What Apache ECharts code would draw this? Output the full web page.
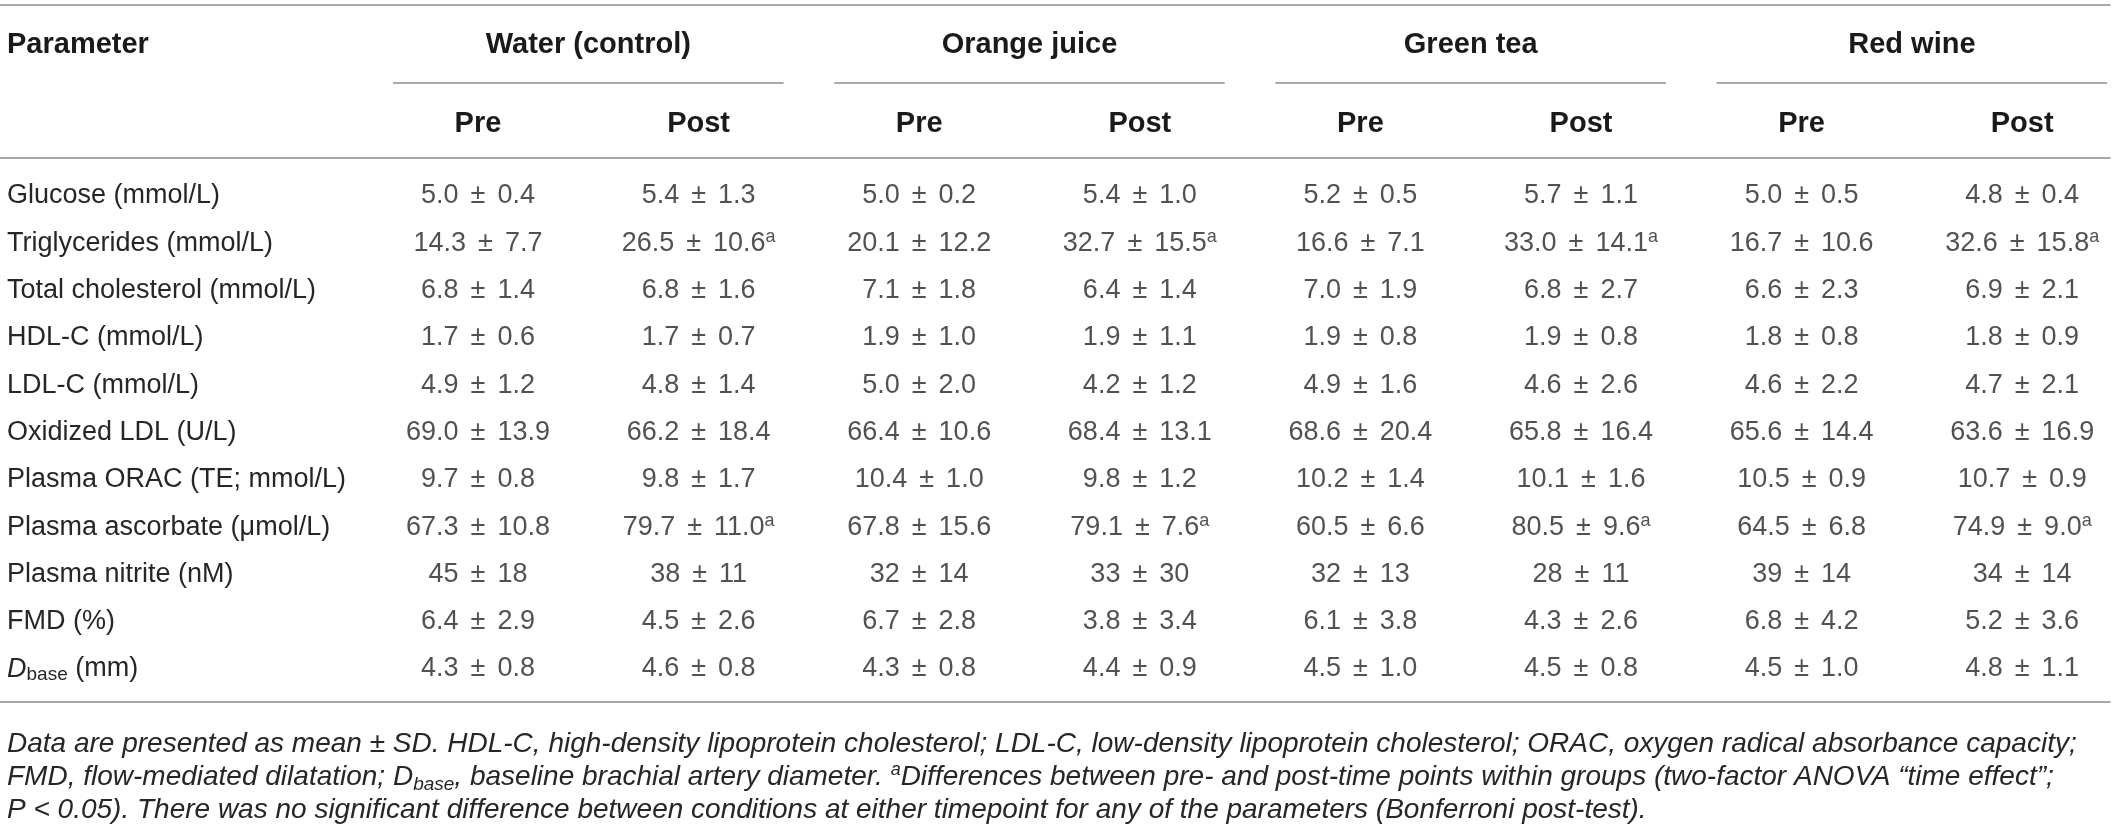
<!DOCTYPE html>
<html>
<head>
<meta charset="utf-8">
<script src="https://cdn.jsdelivr.net/npm/echarts@6/dist/echarts.min.js"></script>
<style>
html,body{margin:0;padding:0;background:#ffffff;}
#chart{width:2118px;height:826px;}
</style>
</head>
<body>
<div id="chart"></div>
<script>
// ---------- DATA ----------
const parameters = [
  "Glucose (mmol/L)",
  "Triglycerides (mmol/L)",
  "Total cholesterol (mmol/L)",
  "HDL-C (mmol/L)",
  "LDL-C (mmol/L)",
  "Oxidized LDL (U/L)",
  "Plasma ORAC (TE; mmol/L)",
  "Plasma ascorbate (\u03bcmol/L)",
  "Plasma nitrite (nM)",
  "FMD (%)",
  "D_base (mm)"
];
const groups = ["Water (control)", "Orange juice", "Green tea", "Red wine"];
const timepoints = ["Pre", "Post"];
const decimals = [1, 1, 1, 1, 1, 1, 1, 1, 0, 1, 1];
const timeEffectRows = ["Triglycerides (mmol/L)", "Plasma ascorbate (\u03bcmol/L)"];

const waterPreMean  = [5.0, 14.3, 6.8, 1.7, 4.9, 69.0, 9.7, 67.3, 45, 6.4, 4.3];
const waterPreSD    = [0.4, 7.7, 1.4, 0.6, 1.2, 13.9, 0.8, 10.8, 18, 2.9, 0.8];
const waterPostMean = [5.4, 26.5, 6.8, 1.7, 4.8, 66.2, 9.8, 79.7, 38, 4.5, 4.6];
const waterPostSD   = [1.3, 10.6, 1.6, 0.7, 1.4, 18.4, 1.7, 11.0, 11, 2.6, 0.8];

const orangePreMean  = [5.0, 20.1, 7.1, 1.9, 5.0, 66.4, 10.4, 67.8, 32, 6.7, 4.3];
const orangePreSD    = [0.2, 12.2, 1.8, 1.0, 2.0, 10.6, 1.0, 15.6, 14, 2.8, 0.8];
const orangePostMean = [5.4, 32.7, 6.4, 1.9, 4.2, 68.4, 9.8, 79.1, 33, 3.8, 4.4];
const orangePostSD   = [1.0, 15.5, 1.4, 1.1, 1.2, 13.1, 1.2, 7.6, 30, 3.4, 0.9];

const teaPreMean  = [5.2, 16.6, 7.0, 1.9, 4.9, 68.6, 10.2, 60.5, 32, 6.1, 4.5];
const teaPreSD    = [0.5, 7.1, 1.9, 0.8, 1.6, 20.4, 1.4, 6.6, 13, 3.8, 1.0];
const teaPostMean = [5.7, 33.0, 6.8, 1.9, 4.6, 65.8, 10.1, 80.5, 28, 4.3, 4.5];
const teaPostSD   = [1.1, 14.1, 2.7, 0.8, 2.6, 16.4, 1.6, 9.6, 11, 2.6, 0.8];

const winePreMean  = [5.0, 16.7, 6.6, 1.8, 4.6, 65.6, 10.5, 64.5, 39, 6.8, 4.5];
const winePreSD    = [0.5, 10.6, 2.3, 0.8, 2.2, 14.4, 0.9, 6.8, 14, 4.2, 1.0];
const winePostMean = [4.8, 32.6, 6.9, 1.8, 4.7, 63.6, 10.7, 74.9, 34, 5.2, 4.8];
const winePostSD   = [0.4, 15.8, 2.1, 0.9, 2.1, 16.9, 0.9, 9.0, 14, 3.6, 1.1];

const headerParameter = "Parameter";
const footnoteLines = [
  "Data are presented as mean \u00b1 SD. HDL-C, high-density lipoprotein cholesterol; LDL-C, low-density lipoprotein cholesterol; ORAC, oxygen radical absorbance capacity;",
  "FMD, flow-mediated dilatation; D{sub|base}, baseline brachial artery diameter. {sup|a}Differences between pre- and post-time points within groups (two-factor ANOVA \u201ctime effect\u201d;",
  "P < 0.05). There was no significant difference between conditions at either timepoint for any of the parameters (Bonferroni post-test)."
];

// ---------- LAYOUT / STYLE ----------
const W = 2118;
const COL0_PX = 478;        // pixel centre of first data column
const COL_STEP_PX = 220.6;  // distance between data columns
const TABLE_RIGHT_PX = 2110;
const X_MIN = -COL0_PX / COL_STEP_PX;
const X_MAX = (TABLE_RIGHT_PX - COL0_PX) / COL_STEP_PX;
const GRID_TOP = 196, GRID_BOTTOM = 826 - 669;
const RULE = '#8c8c8c';
const FONT = '"Liberation Sans", Arial, Helvetica, sans-serif';
const TXT = '#262626';
const HEAD = '#1a1a1a';
const DATA_FS = 27, HEAD_FS = 29, FOOT_FS = 28;
const UNDERLINE_Y = 83;
const UNDERLINE_EXT = 0.385;
const PM = ' \u2006\u00b1 \u2006';

const columns = [
  [waterPreMean, waterPreSD], [waterPostMean, waterPostSD],
  [orangePreMean, orangePreSD], [orangePostMean, orangePostSD],
  [teaPreMean, teaPreSD], [teaPostMean, teaPostSD],
  [winePreMean, winePreSD], [winePostMean, winePostSD]
];
const columnLabels = groups.flatMap(() => timepoints);

const chart = echarts.init(document.getElementById('chart'), null, {renderer: 'canvas'});

const axisCommon = {
  type: 'value', min: X_MIN, max: X_MAX,
  splitLine: {show: false}, axisTick: {show: false},
  axisLine: {show: true, onZero: false, lineStyle: {color: RULE, width: 1.5}}
};

const cellSeries = columns.map((col, ci) => ({
  type: 'scatter',
  xAxisIndex: 0, yAxisIndex: 0,
  symbolSize: 1,
  silent: true,
  itemStyle: {color: 'rgba(0,0,0,0)'},
  data: parameters.map((p, r) => [ci, p, col[0][r], col[1][r]]),
  label: {
    show: true, position: 'inside',
    fontFamily: FONT, fontSize: DATA_FS, color: TXT, lineHeight: 30,
    formatter: (pr) => {
      const v = pr.value;
      const d = decimals[pr.dataIndex];
      let t = v[2].toFixed(d) + PM + v[3].toFixed(d);
      if (timepoints[ci % 2] === 'Post' && timeEffectRows.includes(v[1])) t += '{sup|a}';
      return t;
    },
    rich: {
      sup: {fontFamily: FONT, fontSize: 18, color: TXT, verticalAlign: 'top', lineHeight: 13}
    }
  }
}));

const underlineSeries = {
  type: 'custom',
  xAxisIndex: 0, yAxisIndex: 0,
  silent: true, clip: false,
  data: groups.map((g, i) => [i, 0]),
  renderItem: (params, api) => {
    const i = api.value(0);
    const p1 = api.coord([2 * i - UNDERLINE_EXT, 0]);
    const p2 = api.coord([2 * i + 1 + UNDERLINE_EXT, 0]);
    return {
      type: 'line',
      shape: {x1: p1[0], y1: UNDERLINE_Y, x2: p2[0], y2: UNDERLINE_Y},
      style: {stroke: RULE, lineWidth: 1.5}
    };
  }
};

chart.setOption({
  animation: false,
  backgroundColor: '#ffffff',
  title: [
    {
      text: footnoteLines.join('\n'),
      left: 7, top: 728, padding: 0,
      textStyle: {
        fontFamily: FONT, fontSize: FOOT_FS, fontStyle: 'italic', fontWeight: 'normal',
        color: TXT, lineHeight: 33,
        rich: {
          sub: {fontFamily: FONT, fontSize: 19, fontStyle: 'italic', color: TXT, verticalAlign: 'bottom', lineHeight: 10},
          sup: {fontFamily: FONT, fontSize: 18, fontStyle: 'italic', color: TXT, verticalAlign: 'top', lineHeight: 12}
        }
      }
    },
    {
      text: headerParameter,
      left: 7, top: 30, padding: 0,
      textStyle: {fontFamily: FONT, fontSize: HEAD_FS, fontWeight: 'bold', color: HEAD, lineHeight: 30}
    }
  ],
  grid: {left: 0, right: W - TABLE_RIGHT_PX, top: GRID_TOP, bottom: GRID_BOTTOM, containLabel: false, outerBoundsMode: 'none'},
  xAxis: [
    Object.assign({}, axisCommon, {
      position: 'top', offset: GRID_TOP - 158,
      axisLabel: {
        show: true, margin: 20,
        customValues: columnLabels.map((c, i) => i),
        formatter: (v) => columnLabels[Math.round(v)],
        fontFamily: FONT, fontSize: HEAD_FS, fontWeight: 'bold', color: HEAD
      }
    }),
    Object.assign({}, axisCommon, {
      position: 'top', offset: GRID_TOP - 5,
      axisLabel: {
        show: true, inside: true, margin: 25,
        customValues: groups.map((g, i) => 2 * i + 0.5),
        formatter: (v) => groups[Math.floor(v / 2)],
        fontFamily: FONT, fontSize: HEAD_FS, fontWeight: 'bold', color: HEAD
      }
    }),
    Object.assign({}, axisCommon, {
      position: 'bottom', offset: 702 - 669,
      axisLabel: {show: false}
    })
  ],
  yAxis: {
    type: 'category', data: parameters, inverse: true, boundaryGap: false,
    axisLine: {show: false}, axisTick: {show: false}, splitLine: {show: false},
    axisLabel: {
      show: true, inside: true, margin: 7, interval: 0,
      fontFamily: FONT, fontSize: DATA_FS, color: TXT, lineHeight: 30, align: 'left',
      formatter: (v) => v.replace(/^D_base/, '{it|D}{sub|base}'),
      rich: {
        it: {fontFamily: FONT, fontSize: DATA_FS, fontStyle: 'italic', color: TXT, lineHeight: 30},
        sub: {fontFamily: FONT, fontSize: 19, color: TXT, verticalAlign: 'bottom', lineHeight: 10}
      }
    }
  },
  series: cellSeries.concat([underlineSeries])
});
</script>
</body>
</html>
